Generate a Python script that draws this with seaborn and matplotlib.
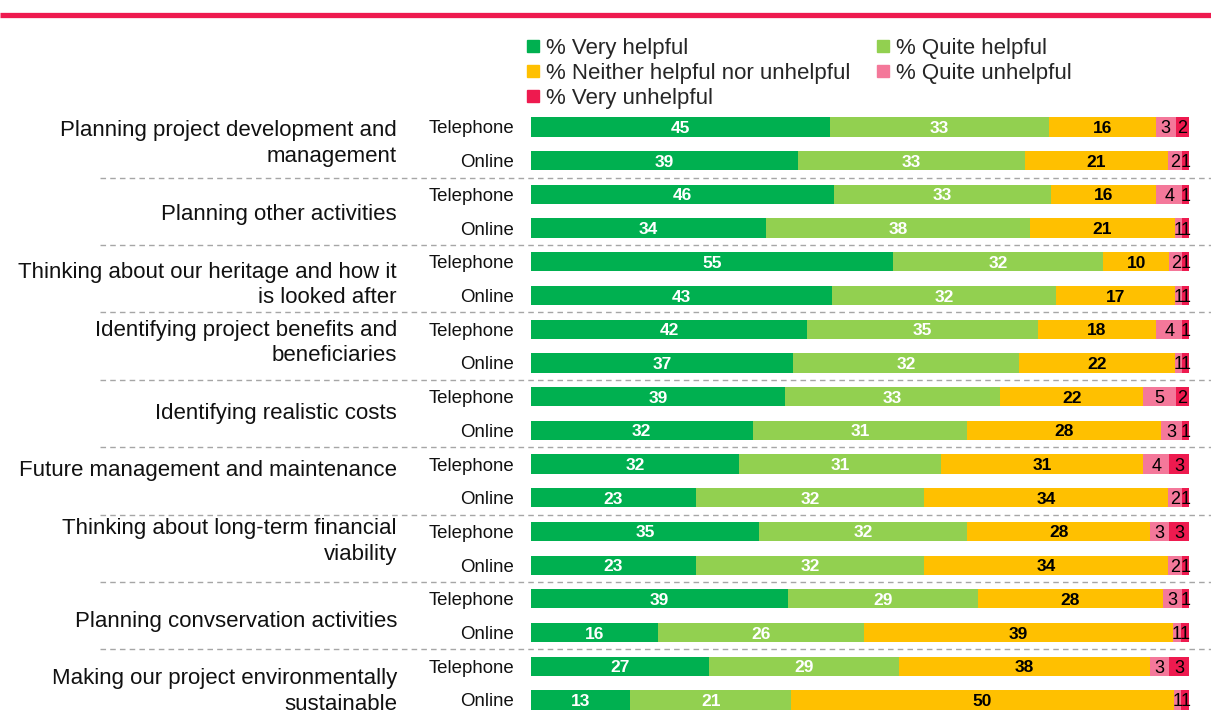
import numpy as np
import pandas as pd
import matplotlib
matplotlib.use("Agg")
import matplotlib.pyplot as plt
import matplotlib.transforms as mtransforms
from matplotlib.lines import Line2D
import seaborn as sns

# ---- data -----------------------------------------------------------------
categories = [
    "Planning project development and\nmanagement",
    "Planning other activities",
    "Thinking about our heritage and how it\nis looked after",
    "Identifying project benefits and\nbeneficiaries",
    "Identifying realistic costs",
    "Future management and maintenance",
    "Thinking about long-term financial\nviability",
    "Planning convservation activities",
    "Making our project environmentally\nsustainable",
]
modes = ["Telephone", "Online"]
responses = [
    "% Very helpful",
    "% Quite helpful",
    "% Neither helpful nor unhelpful",
    "% Quite unhelpful",
    "% Very unhelpful",
]

very_helpful = [45, 39, 46, 34, 55, 43, 42, 37, 39, 32, 32, 23, 35, 23, 39, 16, 27, 13]
quite_helpful = [33, 33, 33, 38, 32, 32, 35, 32, 33, 31, 31, 32, 32, 32, 29, 26, 29, 21]
neither = [16, 21, 16, 21, 10, 17, 18, 22, 22, 28, 31, 34, 28, 34, 28, 39, 38, 50]
quite_unhelpful = [3, 2, 4, 1, 2, 1, 4, 1, 5, 3, 4, 2, 3, 2, 3, 1, 3, 1]
very_unhelpful = [2, 1, 1, 1, 1, 1, 1, 1, 2, 1, 3, 1, 3, 1, 1, 1, 3, 1]

colors = ["#00B050", "#92D050", "#FFC000", "#F4789A", "#EE1A4F"]

# small vertical nudges (in row units) for the topic labels
label_nudge = [0.0, 0.1, 0.19, -0.09, 0.0, -0.31, -0.2, 0.18, 0.25]

# ---- layout ---------------------------------------------------------------
W, H = 1211, 713
sns.set_style("white")
plt.rcParams["font.family"] = ["Liberation Sans", "DejaVu Sans"]

fig = plt.figure(figsize=(W / 100, H / 100), dpi=100)
ax = fig.add_axes([531 / W, 0, (1189 - 531) / W, (713 - 110) / H])

values = np.array([very_helpful, quite_helpful, neither,
                   quite_unhelpful, very_unhelpful], dtype=float)
shares = values / values.sum(axis=0) * 100
cum = np.cumsum(shares, axis=0)

row_ids = [f"r{i:02d}" for i in range(values.shape[1])]

# stacked bars: draw cumulative totals from the widest layer down
for k in range(len(responses) - 1, -1, -1):
    df = pd.DataFrame({"row": row_ids, "cum": cum[k]})
    sns.barplot(data=df, x="cum", y="row", order=row_ids, orient="h",
                color=colors[k], saturation=1, width=0.57, errorbar=None,
                linewidth=0, ax=ax)

# segment labels
for k in range(len(responses)):
    starts = cum[k] - shares[k]
    for i in range(values.shape[1]):
        xc = starts[i] + shares[k, i] / 2
        if k < 2:
            kw = dict(color="white", fontweight="bold", fontsize=12.5)
        elif k == 2:
            kw = dict(color="black", fontweight="bold", fontsize=12.5)
        else:
            kw = dict(color="black", fontweight="normal", fontsize=13)
        ax.text(xc, i, f"{int(values[k, i])}", ha="center",
                va="center_baseline", **kw)

n_rows = values.shape[1]
ax.set_xlim(0, 100)
ax.set_ylim(n_rows - 1 + 0.386, -0.504)
ax.axis("off")

# mode and category labels
tr = mtransforms.blended_transform_factory(fig.transFigure, ax.transData)
for i in range(n_rows):
    ax.text(514 / W, i, modes[i % 2], transform=tr, ha="right",
            va="center_baseline", fontsize=13.4, color="#111111")
for c, name in enumerate(categories):
    ax.text(397 / W, 2 * c + 0.5 + label_nudge[c], name, transform=tr,
            ha="right", va="center", fontsize=16, color="#111111",
            linespacing=1.3, multialignment="right")

# dashed separators between topic pairs
for c in range(1, len(categories)):
    ax.plot([100 / W, 1.0], [2 * c - 0.5] * 2, transform=tr, clip_on=False,
            color="#A6A6A6", lw=1.0, dashes=(4, 3))

# red rule along the top
fig.add_artist(Line2D([0, 1], [1 - 14.5 / H] * 2, transform=fig.transFigure,
                      color="#EE1A4F", lw=3.8, solid_capstyle="butt"))

# legend (column-major order for a two-column layout)
handles = [Line2D([], [], marker="s", ls="none", markersize=8.4,
                  markerfacecolor=colors[k], markeredgecolor=colors[k])
           for k in range(len(responses))]
order = [0, 2, 4, 1, 3]
fig.legend([handles[k] for k in order], [responses[k] for k in order],
           loc="upper left", bbox_to_anchor=(527 / W, 1 - 38 / H), ncol=2,
           frameon=False, fontsize=16, handlelength=0.55,
           handletextpad=0.3, columnspacing=1.2, labelspacing=0.18,
           borderpad=0, borderaxespad=0)

fig.savefig("out.png", dpi=100)
